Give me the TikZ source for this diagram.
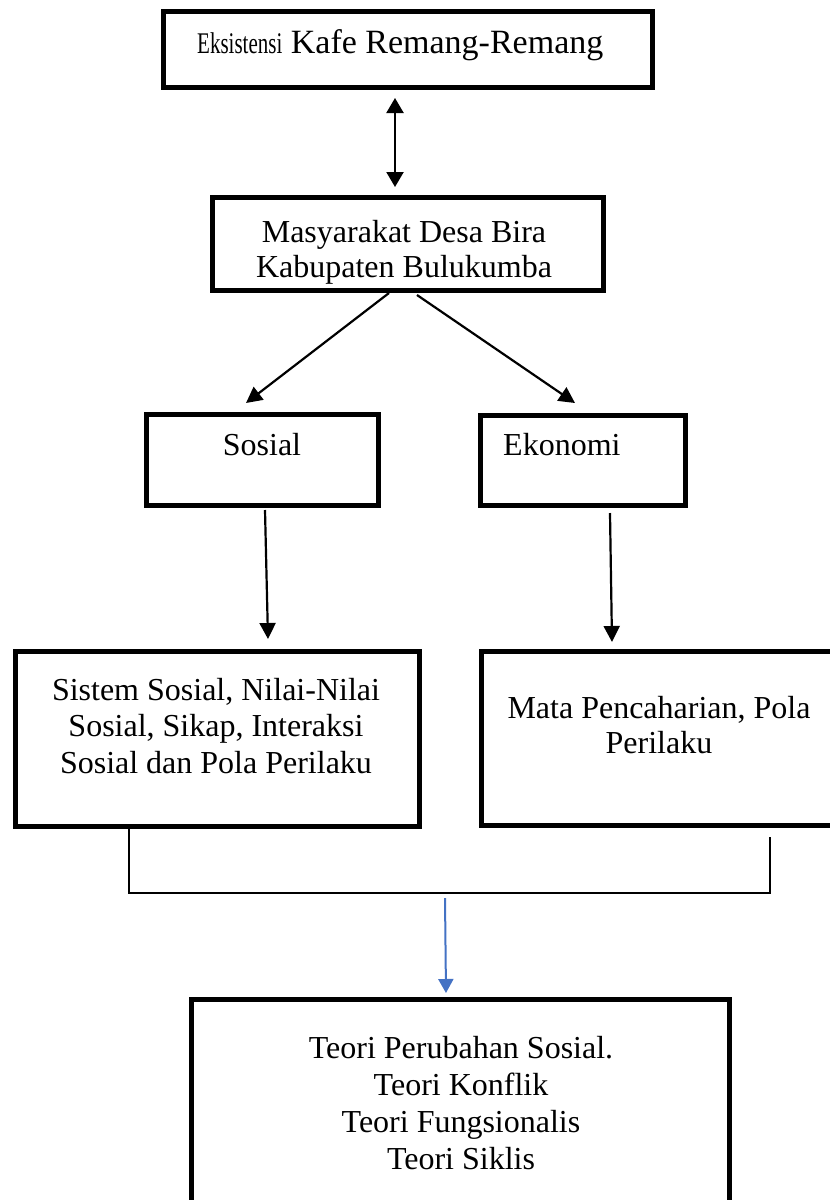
\documentclass[tikz,border=0pt]{standalone}
\usepackage{graphicx}
\usepackage{fontspec}
\setmainfont{Liberation Serif}
\usetikzlibrary{arrows.meta,calc}
\definecolor{wblue}{RGB}{68,114,196}
\begin{document}
\begin{tikzpicture}[x=1pt,y=-1pt,
  box/.style={draw, line width=5pt, inner sep=0pt},
  txt/.style={inner sep=0pt, align=center, font=\fontsize{32}{36}\selectfont},
  arr/.style={line width=2.2pt, -{Triangle[length=16pt,width=16pt]}},
  darr/.style={line width=2.2pt, {Triangle[length=15pt,width=17pt]}-{Triangle[length=15pt,width=17pt]}},
  bline/.style={line width=1.6pt},
  barr/.style={line width=2pt, draw=wblue, fill=wblue, -{Triangle[length=14pt,width=15pt]}}]

\useasboundingbox (0,0) rectangle (830,1200);
\clip (0,0) rectangle (830,1200);

% boxes
\node[box, minimum width=489pt, minimum height=76pt] (b1) at (407.5,49) {};
\node[box, minimum width=391pt, minimum height=93pt] (b2) at (407.5,243.5) {};
\node[box, minimum width=232pt, minimum height=91pt] (sosial) at (262,459.5) {};
\node[box, minimum width=205pt, minimum height=90pt] (ekonomi) at (582.5,460) {};
\node[box, minimum width=404pt, minimum height=175pt] (sistem) at (217,738.5) {};
\node[box, minimum width=360pt, minimum height=174pt] (mata) at (661,738) {};
\node[box, minimum width=538pt, minimum height=216pt] (teori) at (460,1107) {};

% texts
\node[txt, anchor=base west, font=\fontsize{34}{40}\selectfont] (t1) at (197,53)
  {\scalebox{0.7}[1]{\fontsize{30}{36}\selectfont Eksistensi} Kafe Remang-Remang};
\node[txt, anchor=north, font=\fontsize{32}{35}\selectfont] (t2) at (404,217.5)
  {\strut Masyarakat Desa Bira\\Kabupaten Bulukumba};
\node[txt, anchor=base] (t3) at (262,455) {Sosial};
\node[txt, anchor=base west] (t4) at (503,455) {Ekonomi};
\node[txt, anchor=north, font=\fontsize{32}{36.5}\selectfont] (t5) at (216,674.45)
  {\strut Sistem Sosial, Nilai-Nilai\\Sosial, Sikap, Interaksi\\Sosial dan Pola Perilaku};
\node[txt, anchor=north, font=\fontsize{32}{35}\selectfont] (t6) at (659,693.5)
  {\strut Mata Pencaharian, Pola\\Perilaku};
\node[txt, anchor=north, font=\fontsize{32}{37}\selectfont] (t7) at (461,1032.1)
  {\strut Teori Perubahan Sosial.\\Teori Konflik\\Teori Fungsionalis\\Teori Siklis};

% connectors
\draw[darr] ($(b1.south)+(-12.5,8.5)$) -- ($(b2.north)+(-12.5,-7.5)$);
\draw[arr] ($(b2.south)+(-18.5,0.5)$) -- ($(sosial.north)+(-16,-8.5)$);
\draw[arr] ($(b2.south)+(9.5,2.5)$) -- ($(ekonomi.north)+(-7.5,-9.5)$);
\draw[arr] ($(sosial.south)+(3,2.5)$) -- ($(sistem.north)+(51,-9.5)$);
\draw[arr] ($(ekonomi.south)+(27.5,5.5)$) -- ($(mata.north)+(-49,-6.5)$);
\draw[bline] ($(sistem.south)+(-88,0)$) -- ++(0,64.5) -| ($(mata.south)+(109,9.5)$);
\coordinate (j) at (445,898);
\draw[barr] (j) -- ($(teori.north)+(-14,-3.5)$);
\end{tikzpicture}
\end{document}
